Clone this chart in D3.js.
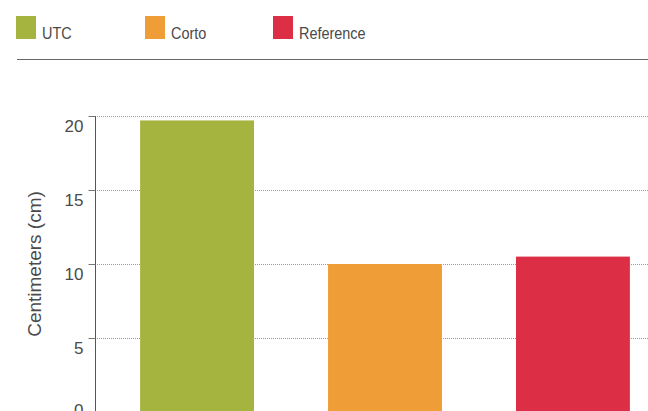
<!DOCTYPE html>
<html>
<head>
<meta charset="utf-8">
<script src="https://cdn.jsdelivr.net/npm/d3@7"></script>
<style>
  body { margin: 0; background: #fff; }
  text { font-family: "Liberation Sans", Helvetica, Arial, sans-serif; fill: #4a4a4a; }
</style>
</head>
<body>
<svg id="chart" width="648" height="411"></svg>
<script>
var categories = ["UTC", "Corto", "Reference"];
var values = [19.7, 10.0, 10.5];
var colors = ["#a5b33f", "#ef9d37", "#dc2f45"];
var yTicks = [0, 5, 10, 15, 20];

var svg = d3.select("#chart");

// legend across the top
var legend = svg.append("g");
var legendX = [16, 145, 273];
categories.forEach(function(c, i) {
  legend.append("rect")
    .attr("x", legendX[i]).attr("y", 16)
    .attr("width", 20).attr("height", 23)
    .attr("fill", colors[i]);
  legend.append("text")
    .attr("transform", "translate(" + (legendX[i] + 26) + ",39) scale(0.85,1)")
    .attr("font-size", 17)
    .text(c);
});
svg.append("line")
  .attr("x1", 17).attr("x2", 648)
  .attr("y1", 59.5).attr("y2", 59.5)
  .attr("stroke", "#666").attr("stroke-width", 1.2);

var axisX = 95;
var y = d3.scaleLinear().domain([0, 20]).range([412, 116]);
var x = d3.scaleBand().domain(categories)
    .range([axisX, 675]).paddingInner(0.394).paddingOuter(0.24);

// dotted gridlines
svg.append("g").selectAll("line")
  .data(yTicks)
  .enter().append("line")
  .attr("x1", axisX).attr("x2", 648)
  .attr("y1", function(d) { return Math.round(y(d)) + 0.5; })
  .attr("y2", function(d) { return Math.round(y(d)) + 0.5; })
  .attr("stroke", "#999")
  .attr("stroke-dasharray", "1,1");

// bars
svg.append("g").selectAll("rect")
  .data(values)
  .enter().append("rect")
  .attr("x", function(d, i) { return x(categories[i]); })
  .attr("width", x.bandwidth())
  .attr("y", function(d) { return y(d); })
  .attr("height", function(d) { return y(0) - y(d); })
  .attr("fill", function(d, i) { return colors[i]; });

// y axis
var yAxis = d3.axisLeft(y).tickValues(yTicks).tickSize(7).tickPadding(5);
var ax = svg.append("g")
  .attr("transform", "translate(" + (axisX + 0.5) + ",0)")
  .call(yAxis);
ax.select(".domain").attr("stroke", "#555").attr("d", "M0,116V412");
ax.selectAll(".tick line").attr("stroke", "#777");
ax.selectAll(".tick text")
  .attr("font-size", 17)
  .attr("font-family", "\"Liberation Sans\", Helvetica, Arial, sans-serif")
  .attr("fill", "#4a4a4a")
  // labels sit a little below their ticks; the bottom one is pulled up
  .attr("y", function(d) { return d === 0 ? -2 : 10; });

svg.append("text")
  .attr("transform", "translate(41,264) rotate(-90)")
  .attr("text-anchor", "middle")
  .attr("font-size", 19)
  .text("Centimeters (cm)");
</script>
</body>
</html>
